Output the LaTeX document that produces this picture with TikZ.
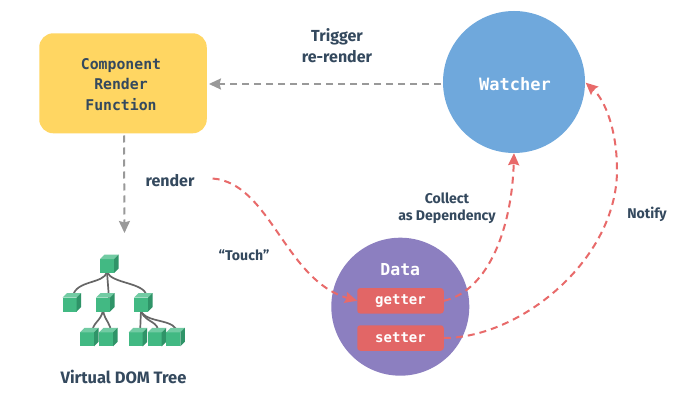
\documentclass[tikz,border=0pt]{standalone}
\usepackage{fontspec}
\setmainfont{Fira Sans}
\newfontfamily\codefont{DejaVu Sans Mono}
\usetikzlibrary{arrows.meta}
\definecolor{inkblue}{HTML}{34495E}
\definecolor{boxyellow}{HTML}{FFD662}
\definecolor{watchblue}{HTML}{6FA8DC}
\definecolor{datapurple}{HTML}{8C7FC0}
\definecolor{redfill}{HTML}{E26666}
\definecolor{reddash}{HTML}{E86A6A}
\definecolor{arrowgray}{HTML}{999999}
\definecolor{cubefront}{HTML}{42B983}
\definecolor{cubetop}{HTML}{72CBA3}
\definecolor{cubeside}{HTML}{2F9468}
\definecolor{treeline}{HTML}{666666}
\tikzset{
  x=1pt,y=-1pt,
  label text/.style={font=\fontsize{16}{21}\selectfont\bfseries,text=inkblue,align=center,inner sep=0pt},
  small label/.style={font=\fontsize{14.1}{17}\selectfont\bfseries,text=inkblue,align=center,inner sep=0pt},
  code text/.style={font=\fontsize{14.8}{20.5}\selectfont\codefont\bfseries,align=center},
  gray link/.style={draw=arrowgray,line width=2pt,dash pattern=on 7pt off 5pt,-{Stealth[length=12pt,width=11pt,inset=1.5pt]}},
  red link/.style={draw=reddash,line width=2pt,dash pattern=on 7pt off 5pt,-{Stealth[length=12pt,width=11pt,inset=1.5pt]}},
  accessor/.style={fill=redfill,rounded corners=3pt,minimum width=86.5pt,minimum height=25.5pt,inner sep=0pt,text=white,font=\fontsize{14}{15}\selectfont\codefont\bfseries},
  cube/.style={fill=cubefront,minimum size=14pt,inner sep=0pt,outer sep=0pt},
  tree link/.style={draw=treeline,line width=1.7pt},
}
\newcommand{\cubeat}[3]{%
  \node[cube] (#1) at (#2,#3) {};
  \fill[cubetop] (#1.north west) -- ++(4.5,-4.5) -- ++(14,0) -- (#1.north east) -- cycle;
  \fill[cubeside] (#1.north east) -- ++(4.5,-4.5) -- ++(0,14) -- (#1.south east) -- cycle;
}
\begin{document}
\begin{tikzpicture}
\useasboundingbox (0,0) rectangle (694,409);
\fill[white] (0,0) rectangle (694,409);

% main shapes
\node[fill=boxyellow,rounded corners=14pt,minimum width=167.5pt,minimum height=100pt,inner sep=0pt] (render box) at (123,83.3) {};
\node[text=inkblue,code text,inner sep=0pt] (render title) at (121,84.3) {Component\\Render\\Function};
\node[circle,fill=watchblue,minimum size=142pt,inner sep=0pt] (watcher) at (514,82) {};
\node[text=white,inner sep=0pt,font=\fontsize{17}{20}\selectfont\codefont\bfseries] (watcher label) at (515,84.3) {Watcher};
\node[circle,fill=datapurple,minimum size=138pt,inner sep=0pt] (data) at (400.3,306.7) {};
\node[text=white,inner sep=0pt,font=\fontsize{16.5}{18}\selectfont\codefont\bfseries] (data label) at (400.3,270) {Data};
\node[accessor] (getter) at (400.5,300.8) {\raisebox{-1.5pt}{getter}};
\node[accessor] (setter) at (400.5,338) {\raisebox{-1pt}{setter}};

% labels
\node[label text] (trigger) at (337,45.5) {Trigger\\re-render};
\node[label text] (render) at (170,180.5) {render};
\node[small label] (touch) at (244,255) {“Touch”};
\node[small label] (collect) at (447,208) {Collect\\as Dependency};
\node[small label] (notify) at (647,214) {Notify};
\node[label text,font=\fontsize{16.5}{18}\selectfont\bfseries] (vdom) at (123.5,376.5) {Virtual DOM Tree};

% tree links
\coordinate (vdom top) at (124.5,233);
\draw[tree link] (107,272) .. controls (104,284) and (76,280) .. (73,296);
\draw[tree link] (107,272) -- (109,298);
\draw[tree link] (107,272) .. controls (112,284) and (144,282) .. (147,296);
\draw[tree link] (103,310) .. controls (101,322) and (92,322) .. (92,334);
\draw[tree link] (103,310) .. controls (105,322) and (111,322) .. (111,334);
\draw[tree link] (141,310) .. controls (141,322) and (141,322) .. (140,334);
\draw[tree link] (141,312) .. controls (148,324) and (158,320) .. (159,334);
\draw[tree link] (141,312) .. controls (150,324) and (176,318) .. (178,334);

% cubes
\cubeat{c0}{107}{266}
\cubeat{c1}{69.5}{304.7}
\cubeat{c2}{103}{304.7}
\cubeat{c3}{141}{304.7}
\cubeat{c4}{87}{339.3}
\cubeat{c5}{106}{339.3}
\cubeat{c6}{135.7}{339.3}
\cubeat{c7}{154.7}{339.3}
\cubeat{c8}{173.3}{339.3}

% connectors
\coordinate (watcher left) at (441,84);
\coordinate (watcher right) at (585.7,82.7);
\coordinate (setter bulge) at (617,170);
\draw[gray link] (watcher left) -- ([xshift=2pt]render box.east |- watcher left);
\draw[gray link] (render box.south) ++(1,2) -- (vdom top);
\draw[red link] ([xshift=18pt,yshift=2pt]render.east) .. controls (270,183) and (285,280) .. (getter.west);
\draw[red link] (getter.east) .. controls (490,290) and (512,225) .. (watcher.south);
\draw[red link] (setter.east) .. controls (520,338) and (617,260) .. (setter bulge) .. controls (617,130) and (605,100) .. (watcher right);
\end{tikzpicture}
\end{document}
